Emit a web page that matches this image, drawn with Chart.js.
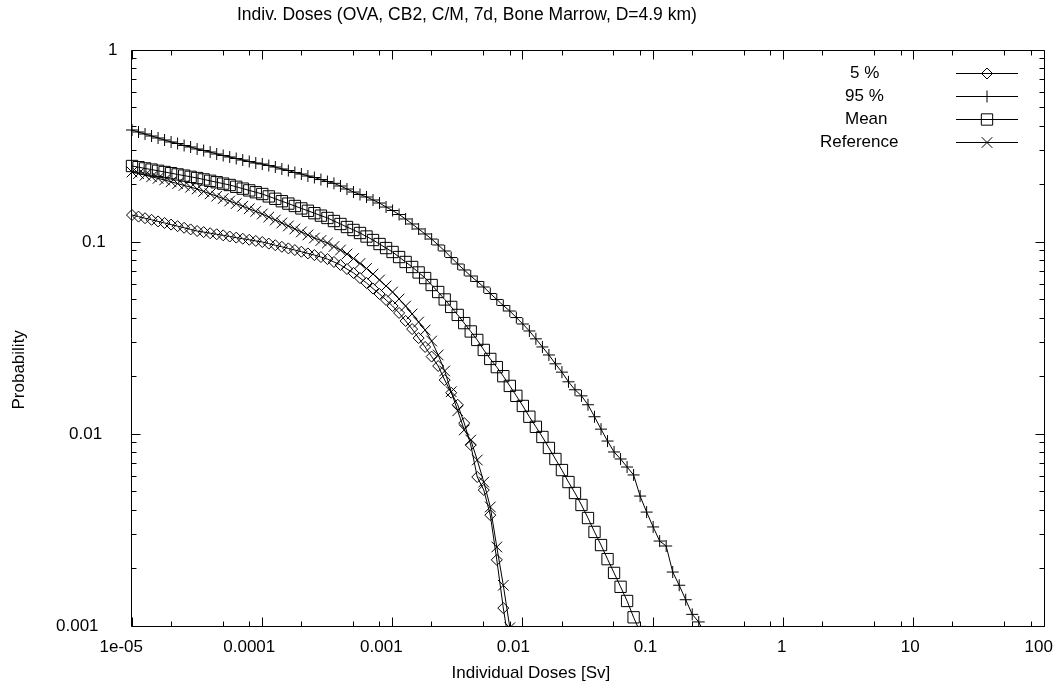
<!DOCTYPE html>
<html>
<head>
<meta charset="utf-8">
<script src="https://cdn.jsdelivr.net/npm/chart.js@4.4.0/dist/chart.umd.min.js"></script>
<style>
  html, body { margin: 0; padding: 0; background: #fff; }
</style>
</head>
<body>
<canvas id="doses-chart" width="1064" height="696"></canvas>
<script>
// dose grid [Sv], 20 steps per decade
var doses = [
  1.000e-5, 1.122e-5, 1.259e-5, 1.413e-5, 1.585e-5, 1.778e-5, 1.995e-5, 2.239e-5, 2.512e-5, 2.818e-5,
  3.162e-5, 3.548e-5, 3.981e-5, 4.467e-5, 5.012e-5, 5.623e-5, 6.310e-5, 7.079e-5, 7.943e-5, 8.913e-5,
  1.000e-4, 1.122e-4, 1.259e-4, 1.413e-4, 1.585e-4, 1.778e-4, 1.995e-4, 2.239e-4, 2.512e-4, 2.818e-4,
  3.162e-4, 3.548e-4, 3.981e-4, 4.467e-4, 5.012e-4, 5.623e-4, 6.310e-4, 7.079e-4, 7.943e-4, 8.913e-4,
  1.000e-3, 1.122e-3, 1.259e-3, 1.413e-3, 1.585e-3, 1.778e-3, 1.995e-3, 2.239e-3, 2.512e-3, 2.818e-3,
  3.162e-3, 3.548e-3, 3.981e-3, 4.467e-3, 5.012e-3, 5.623e-3, 6.310e-3, 7.079e-3, 7.943e-3, 8.913e-3,
  1.000e-2, 1.122e-2, 1.259e-2, 1.413e-2, 1.585e-2, 1.778e-2, 1.995e-2, 2.239e-2, 2.512e-2, 2.818e-2,
  3.162e-2, 3.548e-2, 3.981e-2, 4.467e-2, 5.012e-2, 5.623e-2, 6.310e-2, 7.079e-2, 7.943e-2, 8.913e-2,
  1.000e-1, 1.122e-1, 1.259e-1, 1.413e-1, 1.585e-1, 1.778e-1, 1.995e-1, 2.239e-1, 2.512e-1
];

var p05 = [
  0.1382, 0.1356, 0.1330, 0.1305, 0.1280, 0.1256, 0.1232, 0.1209, 0.1186, 0.1163,
  0.1141, 0.1126, 0.1111, 0.1097, 0.1083, 0.1068, 0.1054, 0.1040, 0.1027, 0.1013,
  0.1000, 0.0981, 0.0962, 0.0944, 0.0926, 0.0908, 0.0890, 0.0872, 0.0855, 0.0835,
  0.0815, 0.0787, 0.0759, 0.0723, 0.0690, 0.0649, 0.0612, 0.0572, 0.0536, 0.0499,
  0.0464, 0.0427, 0.0388, 0.0352, 0.0316, 0.0284, 0.0253, 0.0226, 0.0191, 0.0164,
  0.0142, 0.0114, 0.00877, 0.00597, 0.00511, 0.00378, 0.00221, 0.00124, 0.00075
];

var p95 = [
  0.3831, 0.3740, 0.3652, 0.3565, 0.3481, 0.3398, 0.3318, 0.3258, 0.3181, 0.3125,
  0.3051, 0.2996, 0.2942, 0.2873, 0.2822, 0.2772, 0.2722, 0.2673, 0.2626, 0.2579,
  0.2548, 0.2502, 0.2458, 0.2400, 0.2357, 0.2301, 0.2260, 0.2206, 0.2167, 0.2115,
  0.2065, 0.2021, 0.1957, 0.1888, 0.1821, 0.1768, 0.1716, 0.1655, 0.1596, 0.1521,
  0.1459, 0.1390, 0.1318, 0.1241, 0.1169, 0.1101, 0.1036, 0.0965, 0.0898, 0.0830,
  0.0768, 0.0715, 0.0665, 0.0623, 0.0583, 0.0539, 0.0502, 0.0467, 0.0437, 0.0404,
  0.0374, 0.0344, 0.0313, 0.0284, 0.0258, 0.0232, 0.0210, 0.0187, 0.0170, 0.0158,
  0.0142, 0.0123, 0.0106, 0.00919, 0.00806, 0.00741, 0.00673, 0.00612, 0.00475, 0.00392,
  0.00328, 0.00277, 0.00261, 0.00191, 0.00163, 0.00137, 0.00115, 0.00105, 0.00089
];

var mean = [
  0.2488, 0.2453, 0.2417, 0.2383, 0.2349, 0.2315, 0.2282, 0.2249, 0.2217, 0.2185,
  0.2154, 0.2118, 0.2083, 0.2048, 0.2014, 0.1981, 0.1939, 0.1897, 0.1857, 0.1817,
  0.1778, 0.1728, 0.1679, 0.1631, 0.1585, 0.1540, 0.1496, 0.1454, 0.1413, 0.1372,
  0.1334, 0.1286, 0.1241, 0.1197, 0.1155, 0.1114, 0.1068, 0.1024, 0.0976, 0.0930,
  0.0887, 0.0835, 0.0787, 0.0741, 0.0694, 0.0649, 0.0597, 0.0549, 0.0502, 0.0459,
  0.0417, 0.0378, 0.0342, 0.0309, 0.0274, 0.0246, 0.0223, 0.0200, 0.0178, 0.0158,
  0.0140, 0.0123, 0.0109, 0.00965, 0.00846, 0.00741, 0.00649, 0.00562, 0.00493, 0.00427,
  0.00365, 0.00309, 0.00264, 0.00223, 0.00189, 0.00160, 0.00135, 0.00111, 0.00093
];

var reference = [
  0.2315, 0.2271, 0.2228, 0.2185, 0.2144, 0.2103, 0.2058, 0.2014, 0.1971, 0.1929,
  0.1888, 0.1834, 0.1782, 0.1732, 0.1683, 0.1635, 0.1585, 0.1536, 0.1489, 0.1443,
  0.1399, 0.1349, 0.1302, 0.1256, 0.1212, 0.1169, 0.1128, 0.1088, 0.1049, 0.1018,
  0.0988, 0.0947, 0.0908, 0.0866, 0.0820, 0.0773, 0.0728, 0.0681, 0.0634, 0.0590,
  0.0549, 0.0505, 0.0464, 0.0422, 0.0383, 0.0348, 0.0305, 0.0258, 0.0213, 0.0166,
  0.0132, 0.0105, 0.00930, 0.00732, 0.00562, 0.00417, 0.00258, 0.00163, 0.00098
];

var seriesNames = ["5 %", "95 %", "Mean", "Reference"];
var xTickValues = [1e-5, 1e-4, 1e-3, 1e-2, 1e-1, 1, 10, 100];
var xTickLabels = ["1e-05", "0.0001", "0.001", "0.01", "0.1", "1", "10", "100"];
var yTickValues = [1, 0.1, 0.01, 0.001];
var yTickLabels = ["1", "0.1", "0.01", "0.001"];
var xMinorSteps = [2, 5, 8];
var yMinorSteps = [2, 3, 4, 5, 6, 7, 8, 9];

var titleText = "Indiv. Doses (OVA, CB2, C/M, 7d, Bone Marrow, D=4.9 km)";
var xTitle = "Individual Doses [Sv]";
var yTitle = "Probability";

var FONT = "17px 'Liberation Sans', Arial, sans-serif";
var TITLE_FONT = "17.5px 'Liberation Sans', Arial, sans-serif";

function toPoints(vals) {
  return vals.map(function(v, i) { return {x: doses[i], y: v}; });
}

function series(label, vals, style, radius) {
  return {
    label: label,
    data: toPoints(vals),
    showLine: true,
    borderColor: "#000",
    borderWidth: 1,
    backgroundColor: "rgba(0,0,0,0)",
    pointStyle: style,
    pointRadius: radius,
    pointBorderColor: "#000",
    pointBackgroundColor: "rgba(0,0,0,0)",
    pointBorderWidth: 1,
    tension: 0,
    clip: {left: false, top: 0, right: 0, bottom: 0}
  };
}

// border, inward ticks, labels, titles and key in gnuplot style
var gnuplotFrame = {
  id: "gnuplotFrame",
  afterDatasetsDraw: function(chart) {
    var ctx = chart.ctx, a = chart.chartArea;
    var xs = chart.scales.x, ys = chart.scales.y;
    var L = a.left - 0.5, R = a.right + 0.5, T = a.top + 0.5, B = a.bottom + 0.5;
    ctx.save();
    ctx.strokeStyle = "#000";
    ctx.lineWidth = 1;

    ctx.beginPath();
    ctx.rect(L, T, R - L, B - T);

    function xTick(v, len) {
      var px = Math.floor(xs.getPixelForValue(v)) + 0.5;
      ctx.moveTo(px, B); ctx.lineTo(px, B - len);
      ctx.moveTo(px, T); ctx.lineTo(px, T + len);
    }
    function yTick(v, len) {
      var py = Math.floor(ys.getPixelForValue(v)) + 0.5;
      ctx.moveTo(L, py); ctx.lineTo(L + len, py);
      ctx.moveTo(R, py); ctx.lineTo(R - len, py);
    }
    xTickValues.forEach(function(v, i) {
      xTick(v, 9);
      if (i < xTickValues.length - 1) {
        xMinorSteps.forEach(function(m) { xTick(v * m, 5); });
      }
    });
    yTickValues.forEach(function(v, i) {
      yTick(v, 9);
      if (i > 0) {
        yMinorSteps.forEach(function(m) { yTick(v * m, 5); });
      }
    });
    ctx.stroke();

    ctx.fillStyle = "#000";
    ctx.font = FONT;
    ctx.textAlign = "left";
    ctx.textBaseline = "middle";

    xTickValues.forEach(function(v, i) {
      var s = xTickLabels[i];
      ctx.fillText(s, xs.getPixelForValue(v) - 6.5 * s.length, a.bottom + 21);
    });
    yTickValues.forEach(function(v, i) {
      var s = yTickLabels[i];
      ctx.fillText(s, a.left - 11 - 13 * s.length, ys.getPixelForValue(v));
    });

    var cx = (a.left + a.right) / 2, cy = (a.top + a.bottom) / 2;
    ctx.fillText(xTitle, cx - 6.5 * xTitle.length, a.bottom + 47);

    ctx.save();
    ctx.font = TITLE_FONT;
    ctx.fillText(titleText, 237, 15);
    ctx.restore();

    ctx.save();
    ctx.translate(24, cy + 6.5 * yTitle.length);
    ctx.rotate(-Math.PI / 2);
    ctx.textBaseline = "alphabetic";
    ctx.fillText(yTitle, 0, 0);
    ctx.restore();

    // key
    chart.data.datasets.forEach(function(ds, i) {
      var ry = 73 + 23 * i;
      ctx.fillStyle = "#000";
      ctx.fillText(ds.label, 865 - 5 * ds.label.length, ry);
      ctx.beginPath();
      ctx.moveTo(956, ry + 0.5);
      ctx.lineTo(1018, ry + 0.5);
      ctx.stroke();
      ctx.fillStyle = "rgba(0,0,0,0)";
      Chart.helpers.drawPoint(ctx, {
        pointStyle: ds.pointStyle,
        radius: ds.pointRadius,
        rotation: 0,
        borderWidth: 1
      }, 987, ry + 0.5);
    });
    ctx.restore();
  }
};

var chart = new Chart(document.getElementById("doses-chart"), {
  type: "scatter",
  data: {
    datasets: [
      series(seriesNames[0], p05, "rectRot", 5.5),
      series(seriesNames[1], p95, "cross", 6),
      series(seriesNames[2], mean, "rect", 8),
      series(seriesNames[3], reference, "crossRot", 7.5)
    ]
  },
  options: {
    responsive: false,
    animation: false,
    devicePixelRatio: 1,
    events: [],
    layout: { padding: { left: 132, right: 20, top: 50, bottom: 70 } },
    plugins: {
      legend: { display: false },
      title: { display: false },
      tooltip: { enabled: false }
    },
    scales: {
      x: { type: "logarithmic", min: 1e-5, max: 100, display: false },
      y: { type: "logarithmic", min: 0.001, max: 1, display: false }
    }
  },
  plugins: [gnuplotFrame]
});
</script>
</body>
</html>
